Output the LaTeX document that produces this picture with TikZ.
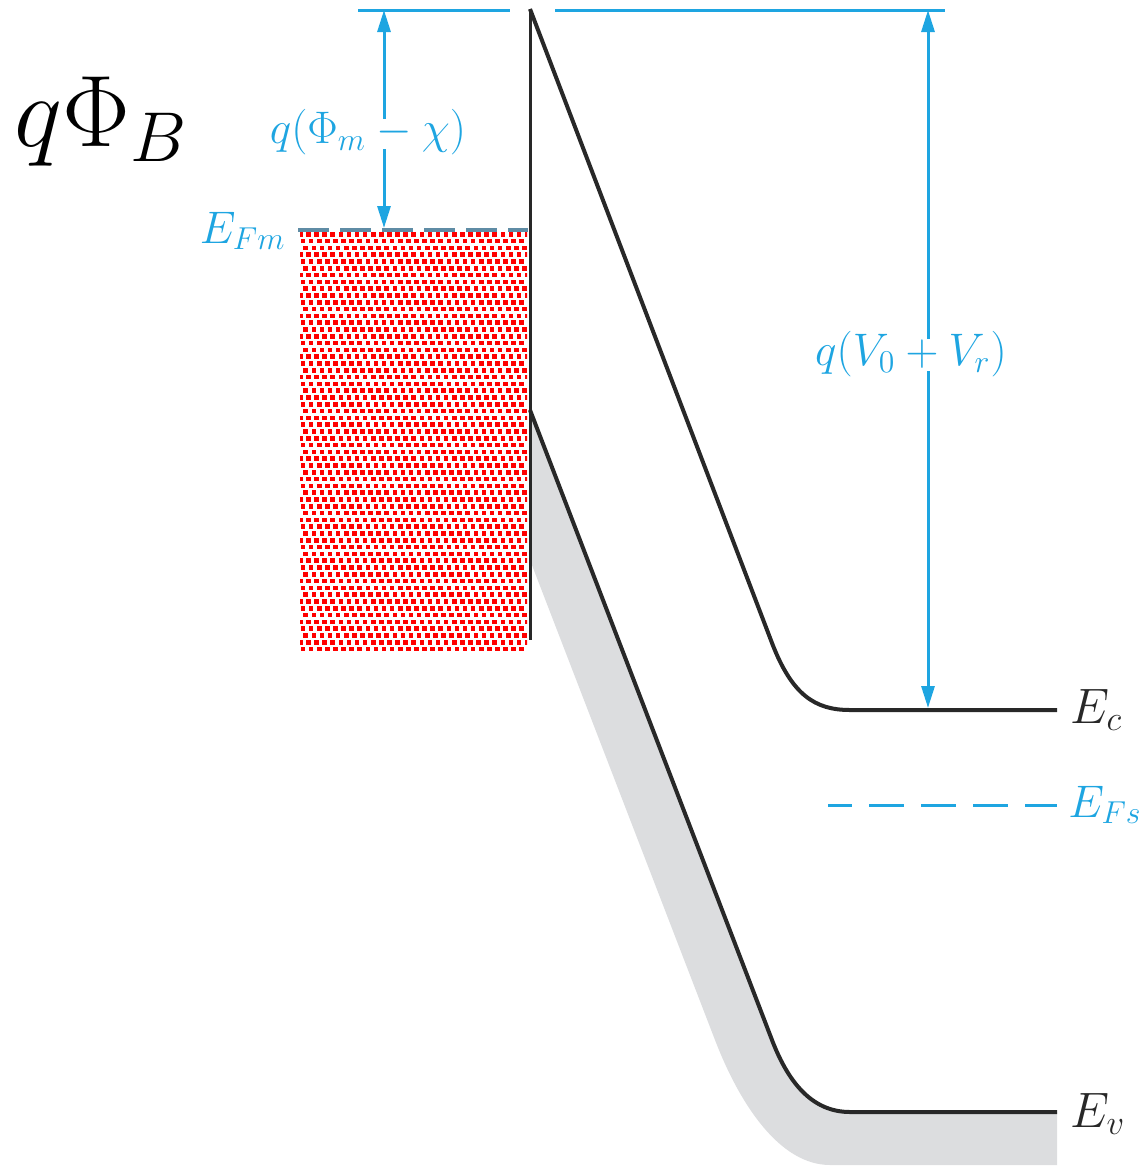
\documentclass[tikz,border=0pt]{standalone}
\usetikzlibrary{arrows.meta}
\definecolor{dimblue}{RGB}{30,165,225}
\definecolor{bandgrey}{RGB}{220,221,223}
\definecolor{darkline}{RGB}{40,40,40}
\definecolor{efmgrey}{RGB}{95,140,165}
\begin{document}
\begin{tikzpicture}[x=1pt,y=-1pt,
  bandline/.style={line width=4pt, draw=darkline},
  dimline/.style={draw=dimblue, line width=3pt},
  dimarrow/.style={dimline, -{Triangle[length=22pt,width=13pt]}},
  bluelabel/.style={text=dimblue, font=\fontsize{20.74}{25}\selectfont, inner sep=0pt, scale=2.2},
  blacklabel/.style={text=darkline, font=\fontsize{20.74}{25}\selectfont, inner sep=0pt, scale=2.4, anchor=base west},
]
\useasboundingbox (0,0) rectangle (1143,1168);

% key points
\coordinate (iftop) at (530,9);
\coordinate (evtop) at (530,410);
\coordinate (ifbot) at (530,640);
\coordinate (ecend) at (1057,710);
\coordinate (evend) at (1057,1112);
\coordinate (phitop) at (384,10);
\coordinate (phibot) at (384,228);
\coordinate (vtop) at (928,10);
\coordinate (vbot) at (928,708);

% grey valence band
\fill[bandgrey] (evtop) -- (772,1040) .. controls (790,1087) and (815,1112) .. (850,1112)
  -- (evend) -- (1057,1165) -- (830,1165) .. controls (780,1165) and (740,1105) .. (715,1040)
  -- (530,560) -- cycle;

% metal: red dotted block
\begin{scope}
  \clip (300,231) rectangle (527,652);
  \foreach \j in {0,...,62} {
    \pgfmathsetmacro\rowshift{mod(\j,3)*2.7}
    \foreach \i in {0,...,28} {
      \fill[red] ({298+8.1*\i+\rowshift},{232+6.8*\j}) rectangle ++(4.6,4.6);
    }
  }
\end{scope}

% band edges
\draw[bandline] (iftop) -- (772,643) .. controls (792,695) and (815,710) .. (850,710) -- (ecend);
\draw[bandline] (evtop) -- (772,1040) .. controls (790,1087) and (815,1112) .. (850,1112) -- (evend);
\draw[darkline, line width=3pt] (iftop) -- (ifbot);

% blue reference lines
\draw[dimline] (358,10) -- (510,10);
\draw[dimline] (555,10) -- (945,10);
\draw[efmgrey, line width=3.5pt, dash pattern=on 31pt off 11pt] (298,230) -- (528,230);
\draw[dimblue, line width=3pt, dash pattern=on 35pt off 17pt, dash phase=11pt] (828,805) -- (1057,805);

% labels
\node[anchor=base west, inner sep=0pt, font=\fontsize{20.74}{25}\selectfont, scale=4.9] (qphib) at (14,146) {$q\Phi_B$};
\node[bluelabel] (lphi) at (368,132) {$q(\Phi_m - \chi)$};
\node[bluelabel] (lv) at (911,354) {$q(V_0 + V_r)$};
\node[bluelabel, anchor=base east] (lefm) at (286,243) {$E_{Fm}$};
\node[bluelabel, anchor=base west] (lefs) at (1068,817) {$E_{Fs}$};
\node[blacklabel] (lec) at (1070,723) {$E_c$};
\node[blacklabel] (lev) at (1070,1127) {$E_v$};

% dimension arrows
\draw[dimarrow] ([yshift=-10pt]lphi.north -| phitop) -- (phitop);
\draw[dimarrow] ([yshift=6pt]lphi.south -| phibot) -- (phibot);
\draw[dimarrow] ([yshift=-8pt]lv.north -| vtop) -- (vtop);
\draw[dimarrow] ([yshift=6pt]lv.south -| vbot) -- (vbot);
\end{tikzpicture}
\end{document}
